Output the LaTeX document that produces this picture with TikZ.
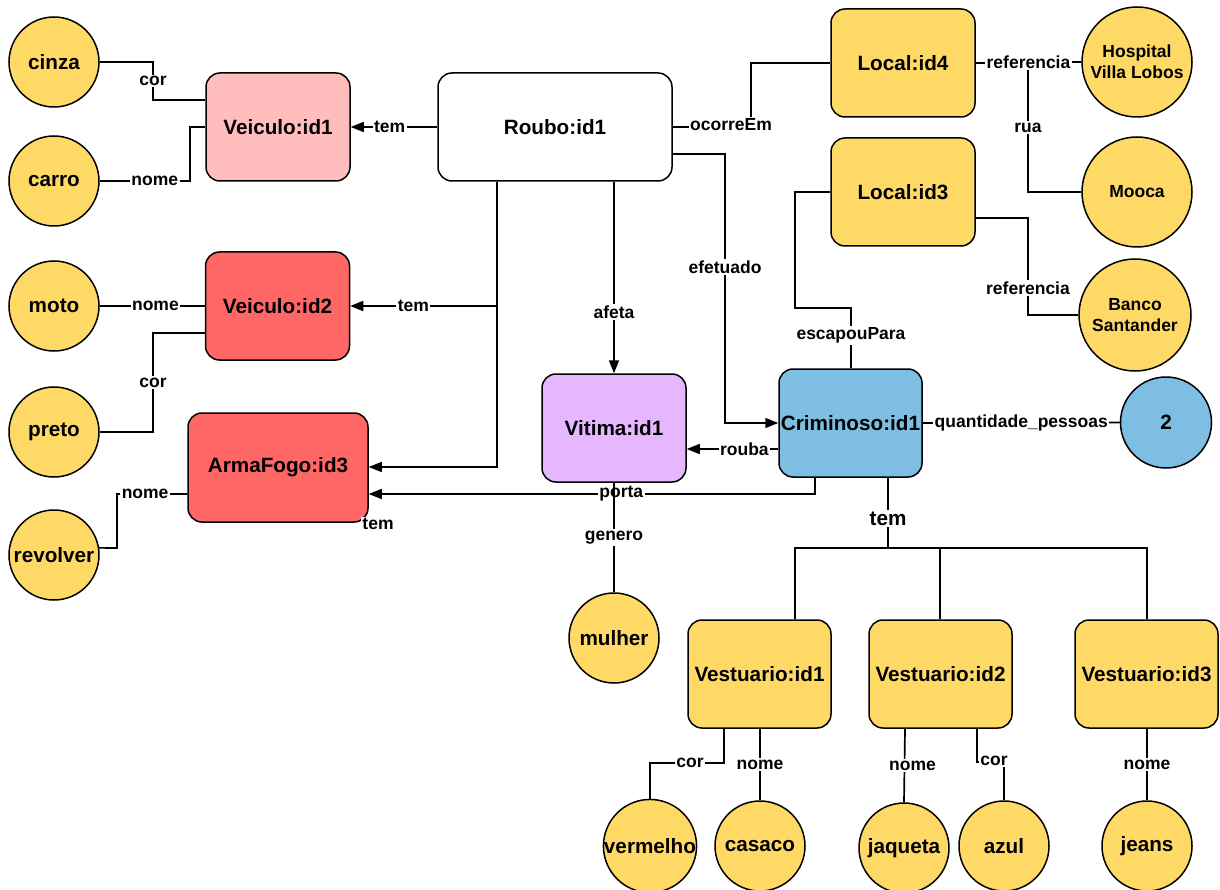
\documentclass[tikz,border=0pt]{standalone}
\usepackage{fontspec}
\setmainfont{Liberation Sans}
\usetikzlibrary{arrows.meta}
\definecolor{yfill}{RGB}{255,217,102}
\definecolor{pinkfill}{RGB}{255,189,189}
\definecolor{redfill}{RGB}{255,102,102}
\definecolor{purplefill}{RGB}{230,183,255}
\definecolor{bluefill}{RGB}{126,190,226}
\begin{document}
\begin{tikzpicture}[x=1pt,y=-1pt,
  bigfont/.style={font=\fontsize{20.7}{24}\selectfont\bfseries},
  smallfont/.style={font=\fontsize{17.5}{21}\selectfont\bfseries},
  outline/.style={draw=black, line width=1.5pt},
  ent/.style={outline, rounded corners=14pt, minimum width=144pt, minimum height=108pt, inner sep=1pt, bigfont},
  val/.style={outline, circle, fill=yfill, minimum size=90pt, inner sep=0pt, bigfont},
  valsm/.style={val, smallfont, align=center},
  link/.style={line width=1.7pt},
  arr/.style={link, -{Triangle[length=13pt,width=10pt]}},
  lab/.style={fill=white, inner sep=1.5pt, smallfont},
]
\useasboundingbox (0,0) rectangle (1220,890);

% entities
\node[ent, fill=white, minimum width=234pt] (roubo) at (555,127) {Roubo:id1};
\node[ent, fill=pinkfill] (v1) at (278,127) {Veiculo:id1};
\node[ent, fill=redfill] (v2) at (277.5,306) {Veiculo:id2};
\node[ent, fill=redfill, minimum width=180pt, minimum height=109pt] (arma) at (278,467.5) {ArmaFogo:id3};
\node[ent, fill=purplefill] (vit) at (614,428) {Vitima:id1};
\node[ent, fill=bluefill, minimum width=143pt] (crim) at (850.5,423) {Criminoso:id1};
\node[ent, fill=yfill] (l4) at (903,63) {Local:id4};
\node[ent, fill=yfill] (l3) at (903,192) {Local:id3};
\node[ent, fill=yfill, minimum width=143pt] (ve1) at (759.5,674) {Vestuario:id1};
\node[ent, fill=yfill, minimum width=143pt] (ve2) at (940.5,674) {Vestuario:id2};
\node[ent, fill=yfill, minimum width=143pt] (ve3) at (1146.5,674) {Vestuario:id3};

% values
\node[val] (cinza) at (54,62) {cinza};
\node[val] (carro) at (54,181) {carro};
\node[val] (moto) at (54,306) {moto};
\node[val] (preto) at (54,432) {preto};
\node[val] (revolver) at (54,555) {revolver};
\node[valsm, minimum size=110pt] (hosp) at (1137,62) {Hospital\\Villa Lobos};
\node[valsm, minimum size=110pt] (mooca) at (1137,192) {Mooca};
\node[valsm, minimum size=112pt] (banco) at (1135,315) {Banco\\Santander};
\node[val, fill=bluefill, minimum size=91pt] (two) at (1166,422.5) {2};
\node[val] (mulher) at (614,638) {mulher};
\node[val] (verm) at (650,846) {vermelho};
\node[val] (casaco) at (760,846) {casaco};
\node[val] (jaq) at (904,848) {jaqueta};
\node[val] (azul) at (1004,846) {azul};
\node[val] (jeans) at (1147,846) {jeans};

% Veiculo:id1 attributes
\draw[link] (cinza.east) -- (153,62) -- node[lab]{cor} (153,100) -- (v1.west |- 0,100);
\draw[link] (v1.west |- 0,127) -- (190,127) -- (190,181) -- node[lab,pos=0.39]{nome} (carro.east);

% Veiculo:id2 attributes
\draw[link] (v2.west) -- node[lab,pos=0.47]{nome} (moto.east);
\draw[link] (v2.west |- 0,333) -- (153,333) -- node[lab]{cor} (153,432) -- (preto.east);

% ArmaFogo:id3 attribute
\draw[link] (arma.west |- 0,494) -- node[lab,pos=0.6]{nome} (117,494) -- (117,548) -- (revolver.9);

% Roubo:id1 relations
\draw[arr] (roubo.west) -- node[lab,pos=0.55]{tem} (v1.east);
\draw[arr] (roubo.south -| 497,0) -- (497,306) -- node[lab,pos=0.57]{tem} (v2.east);
\draw[arr] (roubo.south -| 497,0) -- (497,467) -- (arma.east |- 0,467);
\node[lab] (temarma) at (378,524) {tem};
\draw[arr] (roubo.south -| vit.north) -- node[lab,pos=0.68]{afeta} (vit.north);
\draw[arr] (roubo.east |- 0,154) -- (725,154) -- node[lab,pos=0.42]{efetuado} (725,423) -- (crim.west);
\draw[link] (roubo.east) -- (751,127) -- (751,63) -- (l4.west);
\node[lab] (ocorre) at (731,125) {ocorreEm};

% Local attributes
\draw[link] (l4.east) -- (1028,63) -- node[lab]{rua} (1028,192) -- (mooca.west);
\draw[link] (l4.east) -- node[lab]{referencia} (hosp.west);
\draw[link] (l3.east |- 0,218) -- (1028,218) -- node[lab,pos=0.72]{referencia} (1028,315) -- (banco.west);

% Criminoso:id1 relations
\draw[link] (crim.north -| 851,0) -- node[lab,pos=0.54]{escapouPara} (851,308) -- (795,308) -- (795,192) -- (l3.west);
\draw[arr] (crim.west |- 0,449) -- node[lab,pos=0.37]{rouba} (vit.east |- 0,449);
\draw[link] (crim.east) -- node[lab]{quantidade\_pessoas} (two.west);
\draw[arr] (crim.south -| 815,0) -- (815,494) -- node[lab,pos=0.434]{porta} (arma.east |- 0,494);

% Vitima:id1 attribute
\draw[link] (vit.south) -- node[lab]{genero} (mulher.north);

% Criminoso:id1 clothing
\coordinate (hub) at (888,548);
\draw[link] (crim.south -| hub) -- node[lab,bigfont,pos=0.58]{tem} (hub);
\draw[link] (hub) -- (795,548) -- (ve1.north -| 795,0);
\draw[link] (hub) -- (940,548) -- (ve2.north -| 940,0);
\draw[link] (hub) -- (1147,548) -- (ve3.north -| 1147,0);

% Vestuario attributes
\draw[link] (ve1.south -| 724,0) -- (724,763) -- node[lab,pos=0.46]{cor} (650,763) -- (verm.north);
\draw[link] (ve1.south -| casaco.north) -- node[lab]{nome} (casaco.north);
\draw[link] (ve2.south -| 905,0) -- node[lab,xshift=8pt]{nome} (jaq.north);
\draw[link] (ve2.south -| 977,0) -- (977,762) -- (1004,762) -- (azul.north);
\node[lab] (corazul) at (994,761) {cor};
\draw[link] (ve3.south -| jeans.north) -- node[lab]{nome} (jeans.north);
\end{tikzpicture}
\end{document}
